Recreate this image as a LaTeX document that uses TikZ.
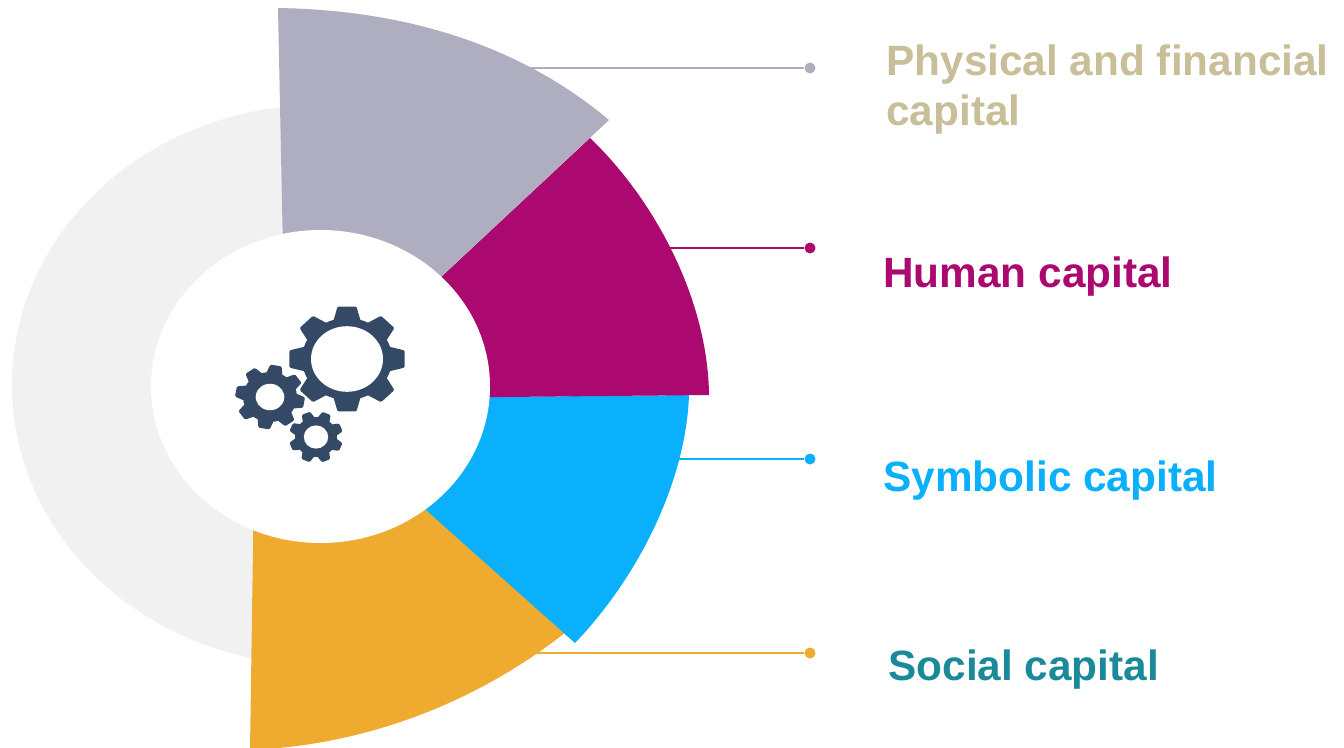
\documentclass[tikz,border=0pt]{standalone}
\usepackage{fontspec}
\setmainfont{Liberation Sans}
\definecolor{ringGray}{HTML}{F1F1F1}
\definecolor{physGray}{HTML}{AEAEC0}
\definecolor{humanPurple}{HTML}{AB0870}
\definecolor{symbBlue}{HTML}{0BB0FC}
\definecolor{socOrange}{HTML}{EFAB30}
\definecolor{physText}{HTML}{C8BE98}
\definecolor{socText}{HTML}{1A8A9A}
\definecolor{cogBlue}{HTML}{344966}
\tikzset{
    cog/.pic = {
    \fill[cogBlue] (0,0) circle (1);
    \foreach \a in {0,45,...,315} {
        \fill[cogBlue,rotate=\a,rounded corners=0.7pt] (-.31,.9) -- (-.21,1.28) -- (.21,1.28) -- (.31,.9) -- cycle;
    }
    \fill[white] (0,0) circle (#1);
    }
}
\tikzset{
    leaderDot/.style={circle,inner sep=0pt,minimum size=0.22cm},
    leaderLine/.style={line width=0.7pt},
    capLabel/.style={anchor=base west,inner sep=0pt,align=left,
        font=\fontsize{24.1}{28.4}\selectfont\bfseries}
}
\newcommand{\drawLeader}[4]{
    \coordinate (#1Start) at #2;
    \node[leaderDot,fill=#4] (#1Dot) at #3 {};
    \draw[leaderLine,#4] (#1Start) -- (#1Dot);
}

\begin{document}
\begin{tikzpicture}[x=0.02cm,y=-0.02cm]

    \clip (0,0) rectangle (1344,747);

    \fill[white] (0,0) rectangle (1344,747);
    \fill[ringGray] (320,385) ellipse [x radius=308,y radius=280];

    \drawLeader{phys}{(520,68)}{(810,68)}{physGray};
    \drawLeader{human}{(650,248)}{(810,248)}{humanPurple};
    \drawLeader{symb}{(650,459)}{(810,459)}{symbBlue};
    \drawLeader{soc}{(520,653)}{(810,653)}{socOrange};

    % slices, inner ends are hidden by the white ellipse
    \fill[socOrange] (250,750) -- (254,480) -- (380,470) -- (566,632)
        .. controls (480,700) and (370,745) .. (250,750) -- cycle;
    \fill[symbBlue] (380,469) -- (575,643)
        .. controls (640,575) and (686,480) .. (689,395) -- (400,398) -- cycle;
    \fill[humanPurple] (400,398) -- (709,395)
        .. controls (708,300) and (655,200) .. (590,138) -- (380,334) -- cycle;
    \fill[physGray] (284,300) -- (278,8)
        .. controls (400,10) and (516,42) .. (609,120) -- (380,334) -- cycle;

    \fill[white] (320.5,386.5) ellipse [x radius=169.5,y radius=156.5];

    \path (347,359) pic[xscale=45,yscale=41] {cog=0.8};
    \path (270,397) pic[xscale=27,yscale=25,rotate=-10] {cog=0.53};
    \path (316,437) pic[xscale=21,yscale=20,rotate=22] {cog=0.58};

    \node[capLabel,text=physText] (physLabel) at (886,125) {Physical and financial\\capital};
    \node[capLabel,text=humanPurple] (humanLabel) at (883,287) {Human capital};
    \node[capLabel,text=symbBlue] (symbLabel) at (883,491) {Symbolic capital};
    \node[capLabel,text=socText] (socLabel) at (888,680) {Social capital};

\end{tikzpicture}
\end{document}
